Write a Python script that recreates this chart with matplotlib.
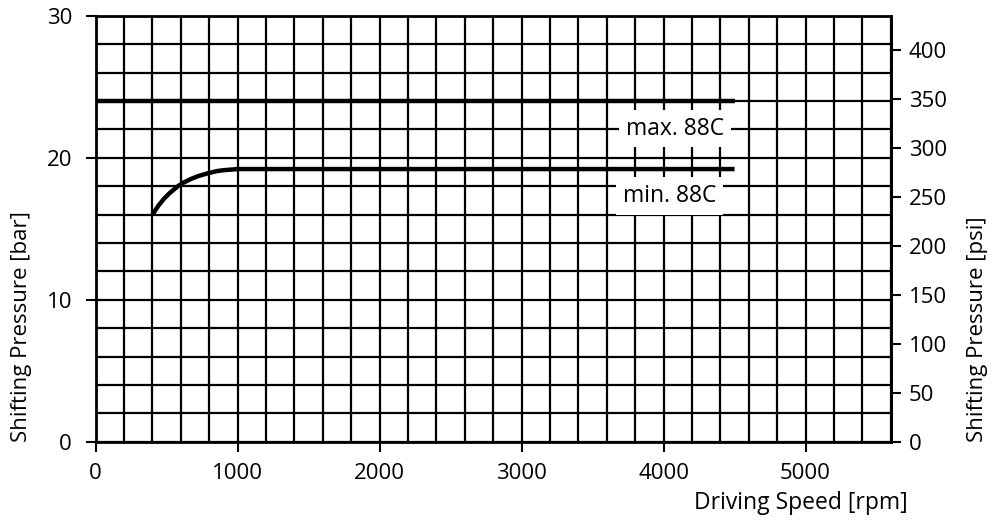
import matplotlib
matplotlib.use("Agg")
import matplotlib.pyplot as plt
from matplotlib.ticker import MultipleLocator

plt.rcParams['font.family'] = ['Open Sans', 'DejaVu Sans']

# data
max_rpm = [0, 4500]
max_bar = [24.0, 24.0]
min_rpm = [400, 440, 480, 520, 580, 620, 670, 720, 790, 850, 900, 1000, 4500]
min_bar = [16.0, 16.6, 17.1, 17.5, 18.0, 18.25, 18.5, 18.7, 18.9, 19.05, 19.12, 19.2, 19.2]
labels = ["max. 88C", "min. 88C"]
label_pos = [(4080, 22.05), (4040, 17.3)]
x_ticks = [0, 1000, 2000, 3000, 4000, 5000]
y_ticks = [0, 10, 20, 30]
psi_ticks = [0, 50, 100, 150, 200, 250, 300, 350, 400]
BAR2PSI = 14.5038

fig = plt.figure(figsize=(9.94, 5.27), dpi=100)
ax = fig.add_axes([95.7/994, 1-441.7/527, (890.7-95.7)/994, (441.7-15.7)/527])
ax.set_xlim(0, 5600)
ax.set_ylim(0, 30)

ax.xaxis.set_minor_locator(MultipleLocator(200))
ax.yaxis.set_minor_locator(MultipleLocator(2))
ax.set_xticks(x_ticks)
ax.set_yticks(y_ticks)
ax.grid(which='both', color='black', linewidth=1.6, zorder=0)
ax.set_axisbelow(True)
ax.tick_params(which='minor', length=0)
ax.tick_params(axis='y', which='major', direction='out', length=7, width=1.5, labelsize=16, pad=10, colors='black')
ax.tick_params(axis='x', which='major', direction='out', length=7, width=1.5, labelsize=16, pad=8, colors='black')
for s in ax.spines.values():
    s.set_linewidth(2)
    s.set_color('black')

ax.plot(max_rpm, max_bar, color='black', linewidth=3.2, solid_capstyle='butt', zorder=3)
ax.plot(min_rpm, min_bar, color='black', linewidth=3.2, solid_capstyle='butt', zorder=3)

for t, (x, y) in zip(labels, label_pos):
    ax.text(x, y, t, fontsize=16.5, ha='center', va='center', zorder=4,
            bbox=dict(facecolor='white', edgecolor='none', pad=5))

sec = ax.secondary_yaxis('right', functions=(lambda b: b * BAR2PSI, lambda p: p / BAR2PSI))
sec.set_yticks(psi_ticks)
sec.tick_params(direction='out', length=7, width=1.5, labelsize=16, pad=6)
sec.spines['right'].set_linewidth(2)

fig.text(22/994, 1-441.7/527, "Shifting Pressure [bar]", rotation=90, fontsize=16,
         ha='center', va='bottom')
fig.text(978/994, 1-441.7/527, "Shifting Pressure [psi]", rotation=90, fontsize=16,
         ha='center', va='bottom')
fig.text(908/994, 1-503/527, "Driving Speed [rpm]", fontsize=16.5, ha='right', va='center')

fig.savefig("out.png", dpi=100)
